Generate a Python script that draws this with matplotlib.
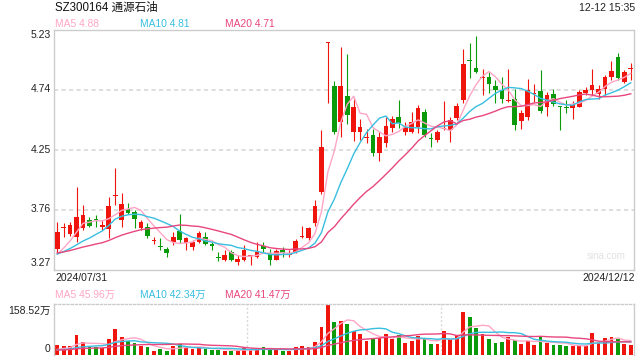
import matplotlib
matplotlib.use('Agg')
import matplotlib.pyplot as plt
import numpy as np
import pandas as pd
from matplotlib.transforms import offset_copy, blended_transform_factory

plt.rcParams['font.family'] = ['Liberation Sans', 'Noto Sans CJK SC', 'DejaVu Sans']

title = 'SZ300164 通源石油'
stamp = '12-12 15:35'
date_start = '2024/07/31'
date_end = '2024/12/12'

open_ = [3.44, 3.61, 3.56, 3.54, 3.61, 3.68, 3.68, 3.625, 3.605, 3.875,
         3.68, 3.765, 3.745, 3.615, 3.62, 3.505, 3.465, 3.44, 3.50, 3.59,
         3.49, 3.455, 3.495, 3.54, 3.475, 3.372, 3.35, 3.42, 3.335, 3.35,
         3.383, 3.38, 3.47, 3.41, 3.355, 3.433, 3.39, 3.42, 3.537, 3.529,
         3.651, 3.91, 5.125, 4.773, 4.481, 4.691, 4.40, 4.40, 4.35, 4.373,
         4.223, 4.31, 4.432, 4.517, 4.40, 4.40, 4.441, 4.563, 4.343, 4.332,
         4.424, 4.413, 4.509, 4.658, 4.98, 4.917, 4.84, 4.846, 4.773, 4.74,
         4.648, 4.664, 4.49, 4.517, 4.705, 4.732, 4.604, 4.707, 4.604, 4.594,
         4.59, 4.604, 4.713, 4.74, 4.707, 4.745, 4.849, 5.012, 4.808, 4.908]
high = [3.66, 3.65, 3.66, 3.945, 3.80, 3.705, 3.72, 3.68, 3.87, 4.10,
        3.90, 3.82, 3.76, 3.68, 3.65, 3.54, 3.53, 3.46, 3.58, 3.73,
        3.54, 3.515, 3.59, 3.58, 3.50, 3.415, 3.43, 3.43, 3.39, 3.475,
        3.39, 3.50, 3.50, 3.44, 3.445, 3.46, 3.433, 3.52, 3.63, 3.624,
        3.842, 4.413, 5.132, 4.814, 5.094, 5.031, 4.672, 4.50, 4.419, 4.419,
        4.40, 4.517, 4.528, 4.658, 4.481, 4.563, 4.618, 4.582, 4.392, 4.413,
        4.65, 4.517, 4.631, 5.072, 5.121, 5.181, 4.909, 4.89, 4.822, 4.849,
        4.909, 4.745, 4.577, 4.827, 4.789, 4.903, 4.721, 4.745, 4.609, 4.658,
        4.653, 4.74, 4.762, 4.909, 4.781, 4.863, 4.98, 5.039, 4.903, 4.958]
low = [3.41, 3.54, 3.55, 3.50, 3.60, 3.62, 3.62, 3.60, 3.53, 3.80,
       3.62, 3.725, 3.615, 3.60, 3.53, 3.48, 3.43, 3.38, 3.475, 3.49,
       3.43, 3.43, 3.49, 3.475, 3.43, 3.345, 3.345, 3.345, 3.31, 3.345,
       3.31, 3.365, 3.42, 3.31, 3.35, 3.38, 3.38, 3.41, 3.528, 3.515,
       3.629, 3.891, 4.631, 4.381, 4.354, 4.462, 4.326, 4.332, 4.31, 4.201,
       4.163, 4.272, 4.40, 4.432, 4.373, 4.386, 4.386, 4.359, 4.277, 4.318,
       4.413, 4.318, 4.495, 4.631, 4.835, 4.882, 4.699, 4.718, 4.631, 4.637,
       4.645, 4.413, 4.422, 4.495, 4.645, 4.55, 4.528, 4.609, 4.413, 4.55,
       4.50, 4.598, 4.699, 4.699, 4.667, 4.699, 4.822, 4.822, 4.795, 4.822]
close = [3.58, 3.615, 3.64, 3.70, 3.72, 3.63, 3.675, 3.63, 3.79, 3.88,
         3.81, 3.735, 3.69, 3.665, 3.55, 3.51, 3.46, 3.41, 3.54, 3.515,
         3.53, 3.50, 3.57, 3.48, 3.47, 3.368, 3.39, 3.35, 3.36, 3.43,
         3.386, 3.42, 3.445, 3.355, 3.425, 3.41, 3.393, 3.505, 3.54, 3.612,
         3.793, 4.277, 5.132, 4.40, 4.773, 4.536, 4.604, 4.441, 4.354, 4.228,
         4.359, 4.446, 4.50, 4.473, 4.435, 4.481, 4.59, 4.373, 4.34, 4.40,
         4.428, 4.495, 4.609, 4.952, 4.976, 4.89, 4.845, 4.789, 4.74, 4.667,
         4.652, 4.454, 4.55, 4.74, 4.709, 4.571, 4.699, 4.626, 4.60, 4.59,
         4.618, 4.726, 4.74, 4.781, 4.745, 4.849, 4.898, 4.835, 4.89, 4.912]
volume = [31, 28, 28, 62, 39, 26, 26, 23, 50, 81,
          57, 43, 36, 28, 25, 12, 19, 13, 28, 34,
          23, 19, 23, 19, 17, 17, 13, 13, 11, 23,
          16, 20, 24, 20, 17, 13, 11, 24, 29, 25,
          41, 86, 155, 102, 106, 96, 74, 65, 43, 52,
          54, 65, 50, 61, 37, 43, 59, 52, 34, 34,
          75, 50, 61, 134, 118, 84, 65, 50, 38, 40,
          55, 48, 34, 43, 31, 56, 38, 31, 31, 28,
          28, 28, 28, 68, 38, 53, 56, 50, 34, 31]
# closes / volumes before the first visible day (estimated from where MA lines start)
prior_close = [3.44, 3.42, 3.41, 3.43, 3.40, 3.42, 3.41, 3.43, 3.42, 3.40,
               3.41, 3.39, 3.40, 3.41, 3.39, 3.37, 3.35, 3.34, 3.36]
prior_volume = [15, 13, 14, 16, 15, 14, 13, 15, 16, 17, 18, 16, 13, 15, 14, 12, 14, 13, 15]

price_ticks = [3.27, 3.76, 4.25, 4.74, 5.23]
price_tick_labels = ['3.27', '3.76', '4.25', '4.74', '5.23']
vol_max = 158.52
vol_tick_labels = ['0', '158.52万']

ma_labels = ['MA5 4.88', 'MA10 4.81', 'MA20 4.71']
vma_labels = ['MA5 45.96万', 'MA10 42.34万', 'MA20 41.47万']

RED = '#f0150c'
GREEN = '#0a9a0a'
MA_COLORS = ['#ffa6c6', '#38bfe0', '#e8467e']
GRID = '#d8d8d8'
BORDER = '#cccccc'

W, H = 640, 360
fig = plt.figure(figsize=(6.4, 3.6), dpi=100)
fig.patch.set_facecolor('white')


def px_axes(x0, y0, x1, y1):
    return fig.add_axes([x0 / W, 1 - y1 / H, (x1 - x0) / W, (y1 - y0) / H])


ax = px_axes(54, 30, 634, 270)
axv = px_axes(54, 304, 634, 355)

n = len(close)
x = np.arange(n)
o = np.array(open_)
c = np.array(close)
hi = np.array(high)
lo = np.array(low)
v = np.array(volume)
colors = [RED if cc >= oo else GREEN for oo, cc in zip(o, c)]

# price panel
for yv in price_ticks[1:-1]:
    ax.axhline(yv, color=GRID, lw=1.2, linestyle=(0, (2.5, 2)), zorder=0)
ax.vlines(x, lo, hi, colors=colors, lw=0.8, zorder=2)
body = np.maximum(np.abs(c - o), 0.009)
ax.bar(x, body, bottom=np.minimum(o, c), width=0.72, color=colors, linewidth=0, zorder=3)

full_close = pd.Series(prior_close + close)
for win, col in zip([5, 10, 20], MA_COLORS):
    ma = full_close.rolling(win).mean().values[len(prior_close):]
    ax.plot(x, ma, color=col, lw=1.0, zorder=4)

ax.set_xlim(-0.5, n - 0.5)
ax.set_ylim(price_ticks[0], price_ticks[-1])
ax.set_xticks([])
ax.set_yticks([])
for s in ax.spines.values():
    s.set_color(BORDER)
    s.set_linewidth(1)

trans = blended_transform_factory(ax.transAxes, ax.transData)
offsets = [7, 1, 0, 1, -5]
for val, lab, dy in zip(price_ticks, price_tick_labels, offsets):
    ax.text(-0.006, val, lab, ha='right', va='center', fontsize=7.5, color='#222222',
            transform=offset_copy(trans, fig=fig, y=dy, units='dots'))
ax.text(0.985, 0.06, 'sina.com', transform=ax.transAxes, ha='right', va='center',
        fontsize=7, color='#e2e2e2')

# volume panel
axv.bar(x, v, width=0.6, color=colors, linewidth=0, zorder=2)
full_vol = pd.Series(prior_volume + volume)
for win, col in zip([5, 10, 20], MA_COLORS):
    ma = full_vol.rolling(win).mean().values[len(prior_volume):]
    axv.plot(x, ma, color=col, lw=1.0, zorder=3)
for xv in [n / 3 - 0.5, 2 * n / 3 - 0.5]:
    axv.axvline(xv, color=GRID, lw=1, linestyle=(0, (1.5, 1.5)), zorder=0)
axv.set_xlim(-0.5, n - 0.5)
axv.set_ylim(0, vol_max)
axv.set_xticks([])
axv.set_yticks([])
for s in axv.spines.values():
    s.set_color(BORDER)
    s.set_linewidth(1)
axv.spines['top'].set_linestyle((0, (1.5, 1.5)))
axv.spines['bottom'].set_visible(False)
transv = blended_transform_factory(axv.transAxes, axv.transData)
for val, lab, dy in zip([0, vol_max], vol_tick_labels, [6, -7]):
    axv.text(-0.006, val, lab, ha='right', va='center', fontsize=7.5, color='#222222',
             transform=offset_copy(transv, fig=fig, y=dy, units='dots'))

# header texts
fig.text(55 / W, 1 - 8 / H, title, ha='left', va='center', fontsize=8.3, color='#111111')
fig.text(635 / W, 1 - 8 / H, stamp, ha='right', va='center', fontsize=7.6, color='#222222')
for xp, lab, col in zip([55, 140, 225], ma_labels, MA_COLORS):
    fig.text(xp / W, 1 - 24 / H, lab, ha='left', va='center', fontsize=7.4, color=col)
fig.text(55 / W, 1 - 278 / H, date_start, ha='left', va='center', fontsize=7.5, color='#222222')
fig.text(635 / W, 1 - 278 / H, date_end, ha='right', va='center', fontsize=7.5, color='#222222')
for xp, lab, col in zip([55, 140, 225], vma_labels, MA_COLORS):
    fig.text(xp / W, 1 - 295 / H, lab, ha='left', va='center', fontsize=7.4, color=col)

fig.savefig('out.png', dpi=100)
